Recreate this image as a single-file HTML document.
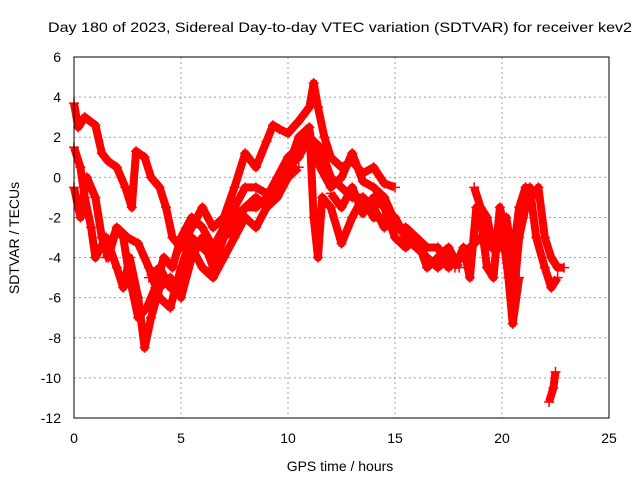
<!DOCTYPE html>
<html><head><meta charset="utf-8"><style>
body{margin:0;background:#fff;}
svg{display:block;font-family:"Liberation Sans",sans-serif;}
</style></head><body>
<svg id="chart" width="640" height="480" viewBox="0 0 640 480">
<text x="340" y="32" text-anchor="middle" font-size="14" textLength="584" lengthAdjust="spacingAndGlyphs">Day 180 of 2023, Sidereal Day-to-day VTEC variation (SDTVAR) for receiver kev2</text>
<g id="grid"></g>
<g id="marks"></g>
<rect x="74" y="57" width="535" height="361" fill="none" stroke="#000" stroke-width="1"/>
<g id="ticks"></g>
<text x="340" y="471" text-anchor="middle" font-size="14">GPS time / hours</text>
<text transform="translate(19,238) rotate(-90)" text-anchor="middle" font-size="14">SDTVAR / TECUs</text>
</svg>
<script>
const xTicks=[0,5,10,15,20,25];
const yTicks=[6,4,2,0,-2,-4,-6,-8,-10,-12];
const track1=[[0,3.7],[0.2,2.5],[0.5,3.0],[1.0,2.6],[1.3,1.2],[1.6,0.8],[2.0,0.5],[2.4,-0.5],[2.7,-1.5],[2.9,1.3],[3.3,1.0],[3.6,0],[4.0,-0.5],[4.3,-1.5],[4.6,-3],[5.0,-3.5],[5.5,-2.5],[6.0,-1.5],[6.5,-2.5],[7.0,-2],[7.5,-0.5],[8.0,1.2],[8.5,0.5],[9.0,1.8],[9.3,2.6],[9.6,2.4],[10,2.2],[10.5,2.8],[11.0,3.5],[11.2,4.7],[11.4,3.5],[11.7,2],[12,1],[12.5,0.5],[13,0.8],[13.5,0.2],[14,0.5],[14.5,-0.3],[15,-0.5]];
const track2=[[0,1.5],[0.3,0.5],[0.5,-1],[0.8,-2.5],[1.0,-4],[1.5,-3],[2,-4.5],[2.3,-5.5],[2.6,-4],[3.0,-6],[3.3,-8.5],[3.6,-7],[4.0,-5.5],[4.5,-5],[5.0,-6],[5.5,-4],[6.0,-3],[6.5,-4.5],[7,-3],[7.5,-2],[8,-1.5],[8.5,-1],[9,-1.5],[9.5,-0.5],[10,0.5],[10.5,2],[11,2.5],[11.2,-2],[11.4,-4],[11.6,-1],[12,-1.5],[12.5,-3.3],[13,-2],[13.5,-1],[14,-1.5],[14.5,-2.5],[15,-2],[15.5,-3],[16,-3.5],[16.5,-4],[17,-4.5],[17.5,-4],[18,-4.2]];
const track3=[[0,-0.5],[0.3,-2],[0.6,0],[1,-1],[1.3,-3],[1.6,-4],[2,-2.5],[2.3,-3],[2.6,-5],[3.0,-7],[3.4,-6.5],[3.8,-5.5],[4.2,-4],[4.6,-4.5],[5,-3],[5.5,-2],[6,-2.5],[6.5,-3.5],[7,-2.5],[7.5,-1.5],[8,-0.5],[8.5,-0.5],[9,-0.8],[9.5,-0.5],[10,0.5],[10.5,1],[11,2],[11.5,1.5],[12,0],[12.5,-0.5],[13,-1],[13.5,-1],[14,-2],[14.5,-2],[15,-2.5],[15.5,-2.5],[16,-3],[16.5,-3.5],[17,-3.5],[17.5,-4.5],[18,-4]];
const track4=[[1.5,-4],[2,-2.5],[2.5,-3],[3,-3.3],[3.5,-4.5],[4,-6],[4.5,-6.5],[5,-4.5],[5.5,-3],[6,-3.5],[6.5,-4],[7,-3],[7.5,-2.5],[8,-1.5],[8.5,-1.5],[9,-1],[9.5,0],[10,1],[10.5,1.5],[11,2.2],[11.5,0.5],[12,-0.5],[12.5,0],[13,1.2],[13.5,-0.2],[14,-0.5],[14.5,-1],[15,-2.2],[15.5,-3],[16,-3.5]];
const track5=[[17.8,-4.5],[18.2,-3.5],[18.5,-5],[18.8,-1.5],[19.0,-2],[19.3,-4.5],[19.6,-5],[19.9,-1.5],[20.2,-3],[20.5,-6.5],[20.8,-3],[21.0,-2],[21.3,-0.5],[21.6,-3],[22.0,-4.5],[22.3,-5.5],[22.6,-5]];
const track6=[[18.7,-0.5],[19,-1.5],[19.3,-2],[19.5,-3],[19.9,-3.5],[20.2,-2],[20.5,-4],[20.8,-1.5],[21.1,-0.5],[21.4,-1],[21.7,-0.5],[22,-3],[22.3,-4],[22.6,-4.5],[22.9,-4.5]];
const track7=[[22.2,-11.2],[22.4,-10.5],[22.5,-9.7]];
const track8=[[18,-4],[18.5,-3.5],[19,-3],[19.5,-3.5],[20,-2.5],[20.3,-5],[20.5,-7.3],[20.8,-5]];
const track9=[[3.5,-5],[4,-4.5],[4.5,-5.5],[5,-5],[5.5,-3.5],[6,-4.5],[6.5,-5],[7,-4],[7.5,-3],[8,-2],[8.5,-2.5],[9,-1.5],[9.5,-1],[10,0],[10.5,0.5]];
const track10=[[12,-0.8],[12.5,-1.5],[13,-0.5],[13.5,-1.8],[14,-1],[14.5,-1.5],[15,-3],[15.5,-3.5],[16,-3],[16.5,-4.5],[17,-4],[17.5,-3.5],[18,-4.5]];
const tracks=[track1,track2,track3,track4,track5,track6,track7,track8,track9,track10];
const X=v=>74+v*(535/25);
const Y=v=>57+(6-v)*(361/18);
const NS="http://www.w3.org/2000/svg";
const grid=document.getElementById('grid'),marks=document.getElementById('marks'),ticks=document.getElementById('ticks');
xTicks.forEach(t=>{
  const l=document.createElementNS(NS,'line');
  
  
  l.setAttribute('x1',X(t));l.setAttribute('x2',X(t));l.setAttribute('y1',57);l.setAttribute('y2',418);
  l.setAttribute('stroke','#a0a0a0');l.setAttribute('stroke-dasharray','2,3');grid.appendChild(l);
  const tx=document.createElementNS(NS,'text');
  
  
  tx.setAttribute('x',X(t));tx.setAttribute('y',443);tx.setAttribute('text-anchor','middle');tx.setAttribute('font-size','14');
  tx.textContent=t;ticks.appendChild(tx);
});
yTicks.forEach(t=>{
  const l=document.createElementNS(NS,'line');
  
  
  l.setAttribute('x1',74);l.setAttribute('x2',609);l.setAttribute('y1',Y(t));l.setAttribute('y2',Y(t));
  l.setAttribute('stroke','#a0a0a0');l.setAttribute('stroke-dasharray','2,3');grid.appendChild(l);
  const tx=document.createElementNS(NS,'text');
  
  
  tx.setAttribute('x',61);tx.setAttribute('y',Y(t)+5);tx.setAttribute('text-anchor','end');tx.setAttribute('font-size','14');
  tx.textContent=t;ticks.appendChild(tx);
});
tracks.forEach(tr=>{
  const p=document.createElementNS(NS,'polyline');
  
  
  p.setAttribute('points',tr.map(d=>X(d[0])+','+Y(d[1])).join(' '));
  p.setAttribute('fill','none');p.setAttribute('stroke','#ff0000');p.setAttribute('stroke-width','8');p.setAttribute('stroke-linejoin','round');
  marks.appendChild(p);
  tr.forEach(d=>{
    const m=document.createElementNS(NS,'path');
    
    
    const x=X(d[0]),y=Y(d[1]);
    m.setAttribute('d',`M${x-5},${y}H${x+5}M${x},${y-5}V${y+5}`);
    m.setAttribute('stroke','#ff0000');m.setAttribute('stroke-width','1.5');
    marks.appendChild(m);
  });
});
</script>
</body></html>
